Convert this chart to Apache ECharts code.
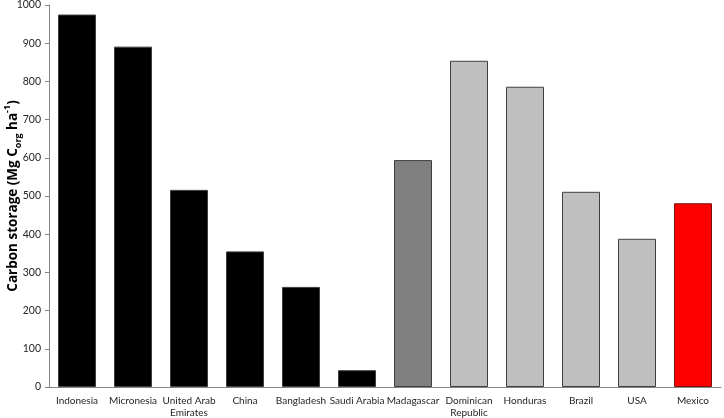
<!DOCTYPE html>
<html>
<head>
<meta charset="utf-8">
<script src="https://cdn.jsdelivr.net/npm/echarts@6/dist/echarts.min.js"></script>
<style>html,body{margin:0;padding:0;background:#fff;}#c{width:724px;height:418px;}</style>
</head>
<body>
<div id="c"></div>
<script>
var categories = ['Indonesia','Micronesia','United Arab\nEmirates','China','Bangladesh','Saudi Arabia','Madagascar','Dominican\nRepublic','Honduras','Brazil','USA','Mexico'];
var values = [975, 891, 516, 355, 262, 44, 594, 854, 786, 511, 388, 481];
var groups = ['a','a','a','a','a','a','b','c','c','c','c','d'];
var yTicks = [0,100,200,300,400,500,600,700,800,900,1000];

var fills = {a:'#000000', b:'#808080', c:'#c0c0c0', d:'#ff0000'};
var borders = {a:'#3f3f3f', b:'#3f3f3f', c:'#3f3f3f', d:'#7a1010'};

var chart = echarts.init(document.getElementById('c'), null, {renderer:'canvas'});
chart.setOption({
  animation:false,
  grid:{left:49, right:3, top:5, bottom:31, containLabel:false, outerBoundsMode:'none'},
  xAxis:{
    type:'category', data:categories,
    axisLine:{lineStyle:{color:'#868686', width:1}},
    axisTick:{show:false},
    axisLabel:{interval:0, fontFamily:'Lato', fontSize:10, color:'#262626', margin:8, lineHeight:12}
  },
  yAxis:{
    type:'value', min:yTicks[0], max:yTicks[yTicks.length-1], interval:100,
    splitLine:{show:false},
    axisLine:{show:true, lineStyle:{color:'#868686', width:1}},
    axisTick:{show:true, length:4, lineStyle:{color:'#868686'}},
    axisLabel:{fontFamily:'Lato', fontSize:10.5, color:'#262626', margin:8,
      formatter:function(v){return String(v);}},
    name:'{a|Carbon storage (Mg C}{sub|org}{a| ha}{sup|-1}{a|)}',
    nameLocation:'middle', nameGap:26, nameRotate:90, nameMoveOverlap:false,
    nameTextStyle:{
      rich:{
        a:{fontFamily:'Open Sans', fontSize:13.5, fontWeight:'bold', color:'#000', lineHeight:20, verticalAlign:'middle'},
        sub:{fontFamily:'Open Sans', fontSize:9, fontWeight:'bold', color:'#000', lineHeight:20, verticalAlign:'bottom', padding:[6,0,0,0]},
        sup:{fontFamily:'Open Sans', fontSize:9, fontWeight:'bold', color:'#000', lineHeight:20, verticalAlign:'top', padding:[0,0,6,0]}
      }
    }
  },
  series:[{
    type:'bar', barWidth:38,
    data: values.map(function(v,i){
      return {value:v, itemStyle:{color:fills[groups[i]], borderColor:borders[groups[i]], borderWidth:1}};
    })
  }]
});
</script>
</body>
</html>
